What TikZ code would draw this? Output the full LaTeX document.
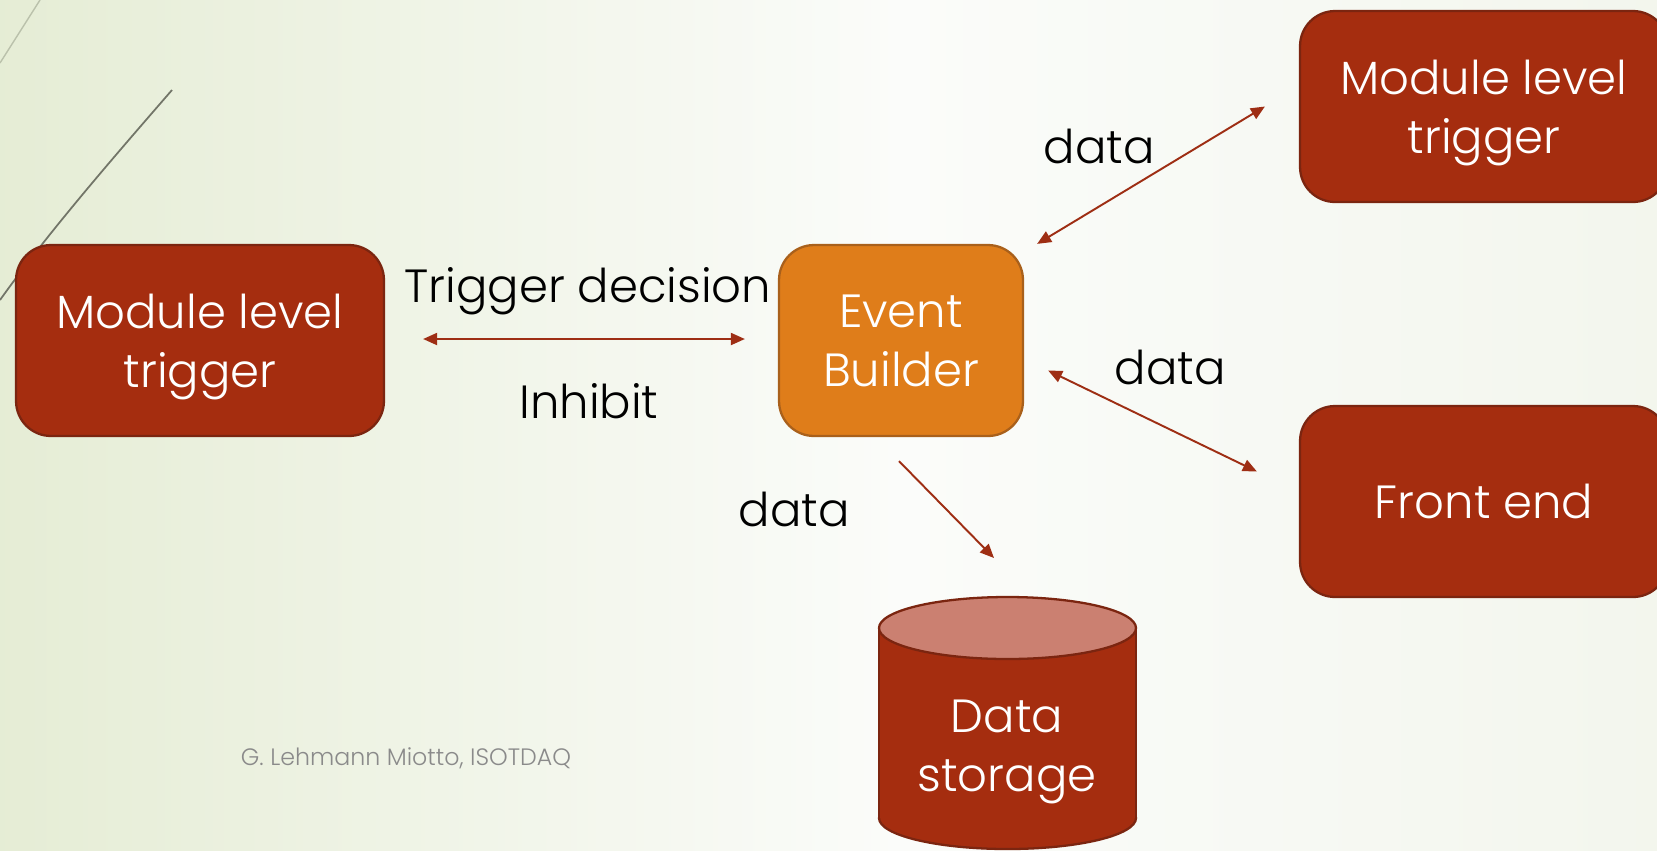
\documentclass[tikz,border=0pt]{standalone}
\usepackage{fontspec}
\setmainfont{Poppins}[UprightFont=* Light]
\usepackage{xcolor}
\usepackage{tikz}
\usetikzlibrary{arrows.meta,positioning,calc}
\definecolor{brick}{HTML}{A52D0F}
\definecolor{brickline}{HTML}{7B2510}
\definecolor{evorange}{HTML}{DF7D1A}
\definecolor{evline}{HTML}{A9601B}
\definecolor{cyltop}{HTML}{CB8071}
\definecolor{arrowred}{HTML}{9E2E14}
\definecolor{bgleft}{HTML}{E3EBD1}
\definecolor{bgmid}{HTML}{FBFCFA}
\definecolor{bgright}{HTML}{F0F4E9}
\definecolor{footgrey}{HTML}{8A8A8A}

\begin{document}
\begin{tikzpicture}[
  x=0.02cm,y=-0.02cm,
  font=\fontsize{26.5}{33.5}\selectfont,
  box/.style={rectangle,draw=brickline,fill=brick,line width=1.3pt,rounded corners=0.7cm,minimum width=7.36cm,minimum height=3.82cm,align=center,text=white,inner sep=0pt,text depth=0pt},
  evbox/.style={box,fill=evorange,draw=evline,minimum width=4.88cm},
  lbl/.style={text=black,inner sep=0pt},
  ar/.style={{Triangle[length=2.8mm,width=2.4mm]}-{Triangle[length=2.8mm,width=2.4mm]},draw=arrowred,line width=1.1pt},
  arone/.style={-{Triangle[length=2.8mm,width=2.4mm]},draw=arrowred,line width=1.1pt}
]
\path[use as bounding box,clip] (0,0) rectangle (1657,850);
\shade[left color=bgleft,right color=bgright,middle color=bgmid] (-100,0) rectangle (1900,850);
% slide decoration
\draw[color=black!18!bgleft,line width=0.8pt] (0,63) -- (40,0);
\draw[color=black!50!bgleft,line width=1pt] (172,90) .. controls (120,150) and (50,230) .. (0,300);

\node[box] (mlt1) at (200,340.5) {Module level\\trigger};
\node[evbox] (evb) at (901,340.5) {Event\\Builder};
\node[box] (mlt2) at (1484,106.5) {Module level\\trigger};
\node[box] (fe) at (1484,501.5) {Front end};

% data storage cylinder
\fill[brick,draw=brickline,line width=1.3pt] (1007.5,818) ellipse[x radius=128.5,y radius=31];
\fill[brick] (879,628) rectangle (1136,818);
\draw[brickline,line width=1.3pt] (879,628) -- (879,818) (1136,628) -- (1136,818);
\filldraw[fill=cyltop,draw=brickline,line width=1.3pt] (1007.5,628) ellipse[x radius=128.5,y radius=31];
\coordinate (dstop) at (1007,597);
\node[align=center,text=white,text depth=0pt] (ds) at (1007,746) {Data\\storage};

\node[lbl] (trig) at (588,291) {Trigger decision};
\node[lbl] (inh) at (589,401) {Inhibit};
\node[lbl] (d1) at (1099,146) {data};
\node[lbl] (d2) at (1170,367) {data};
\node[lbl] (d3) at (794,509) {data};

\draw[ar] ([shift={(38,-1.5)}]mlt1.east) -- ([shift={(-33,-1.5)}]evb.west);
\draw[ar] ([shift={(13,0)}]evb.north east) -- ([shift={(-34,0)}]mlt2.west);
\draw[ar] ([shift={(24,30)}]evb.east) -- ([shift={(-42,-30)}]fe.west);
\draw[arone] ([shift={(-2,24)}]evb.south) -- ([shift={(-13,-39)}]dstop);

\node[text=footgrey,font=\fontsize{13.5}{16}\selectfont] (foot) at (406,758) {G. Lehmann Miotto, ISOTDAQ};
\end{tikzpicture}
\end{document}
